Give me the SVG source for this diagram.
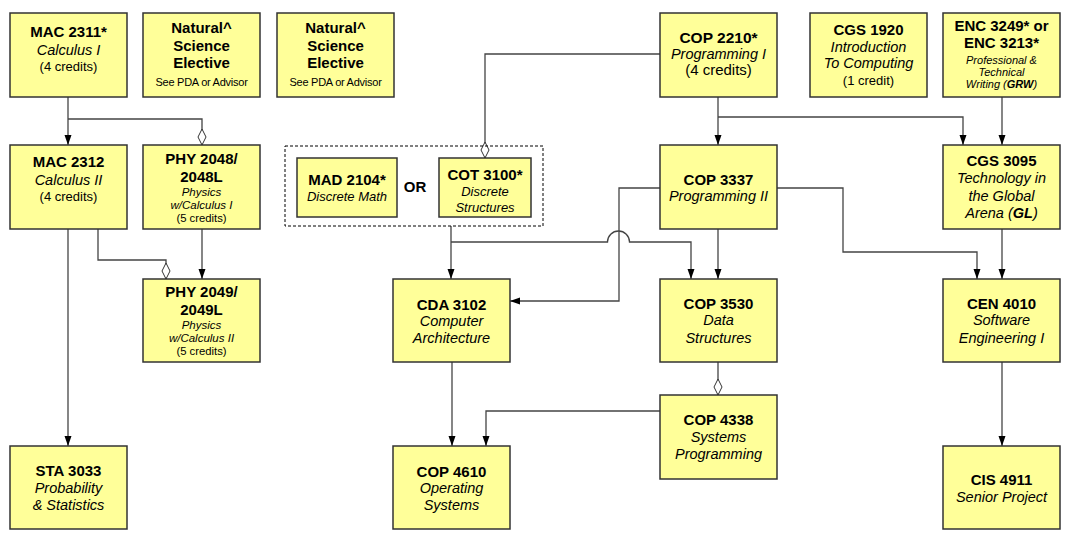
<svg xmlns="http://www.w3.org/2000/svg" width="1085" height="545" viewBox="0 0 1085 545">
<style>
.box{fill:#FFFF99;stroke:#333;stroke-width:1.5}
text{font-family:"Liberation Sans",Arial,sans-serif;fill:#000;text-anchor:middle}
.b{font-weight:bold;font-size:15px}
.i{font-style:italic;font-size:14.5px}
.c{font-size:13px}
.s{font-style:italic;font-size:11.5px}
.sc{font-size:11.3px}
.sr{font-size:11px;letter-spacing:-0.25px}
.m{font-style:italic;font-size:13px}
.ln{fill:none;stroke:#444;stroke-width:1.3}
.ar{marker-end:url(#arrow)}
.dm{marker-end:url(#diamond)}
</style>
<defs>
<marker id="arrow" markerUnits="userSpaceOnUse" markerWidth="10" markerHeight="8" refX="10" refY="4" orient="auto"><path d="M0,0.5 L10,4 L0,7.5 z" fill="#000"/></marker>
<marker id="diamond" markerUnits="userSpaceOnUse" markerWidth="18" markerHeight="10" refX="16.5" refY="5" orient="auto"><path d="M0.5,5 L8.5,1 L16.5,5 L8.5,9 z" fill="#fff" stroke="#333" stroke-width="1"/></marker>
</defs>
<rect width="1085" height="545" fill="#fff"/>
<g id="connectors">
<path class="ln ar" d="M68,97 V145"/>
<path class="ln dm" d="M68,119 H202 V145"/>
<path class="ln ar" d="M68,229 V446"/>
<path class="ln dm" d="M98,229 V260 H166 V279"/>
<path class="ln ar" d="M202,229 V279"/>
<path class="ln dm" d="M660,54 H485 V158"/>
<path class="ln ar" d="M451,226 V279"/>
<path class="ln ar" d="M451,242 H607.5 A11 11 0 0 1 629.5,242 H691 V279"/>
<path class="ln ar" d="M660,188 H619 V301 H510"/>
<path class="ln ar" d="M718,229 V279"/>
<path class="ln ar" d="M777,188 H843 V252 H977 V279"/>
<path class="ln ar" d="M718,97 V145"/>
<path class="ln ar" d="M718,117 H963 V145"/>
<path class="ln ar" d="M1002,97 V145"/>
<path class="ln ar" d="M1002,229 V279"/>
<path class="ln ar" d="M1002,362 V446"/>
<path class="ln ar" d="M452,362 V446"/>
<path class="ln dm" d="M718,362 V395"/>
<path class="ln ar" d="M660,411 H486 V446"/>
</g>
<g id="mac2311"><rect class="box" x="10" y="13" width="117" height="84"/>
<text class="b" x="68.5" y="37">MAC 2311*</text><text class="i" x="68.5" y="55">Calculus I</text><text class="c" x="68.5" y="71">(4 credits)</text></g>
<g id="nat1"><rect class="box" x="143" y="13" width="117" height="84"/>
<text class="b" x="201.5" y="33">Natural^</text><text class="b" x="201.5" y="51">Science</text><text class="b" x="201.5" y="68">Elective</text><text class="sr" x="201.5" y="86">See PDA or Advisor</text></g>
<g id="nat2"><rect class="box" x="277" y="13" width="117" height="84"/>
<text class="b" x="335.5" y="33">Natural^</text><text class="b" x="335.5" y="51">Science</text><text class="b" x="335.5" y="68">Elective</text><text class="sr" x="335.5" y="86">See PDA or Advisor</text></g>
<g id="mac2312"><rect class="box" x="10" y="145" width="117" height="84"/>
<text class="b" x="68.5" y="167">MAC 2312</text><text class="i" x="68.5" y="185">Calculus II</text><text class="c" x="68.5" y="201">(4 credits)</text></g>
<g id="phy2048"><rect class="box" x="143" y="145" width="117" height="84"/>
<text class="b" x="201.5" y="164">PHY 2048/</text><text class="b" x="201.5" y="182">2048L</text><text class="s" x="201.5" y="196">Physics</text><text class="s" x="201.5" y="209">w/Calculus I</text><text class="sc" x="201.5" y="222">(5 credits)</text></g>
<g id="phy2049"><rect class="box" x="143" y="279" width="117" height="83"/>
<text class="b" x="201.5" y="297">PHY 2049/</text><text class="b" x="201.5" y="315">2049L</text><text class="s" x="201.5" y="329">Physics</text><text class="s" x="201.5" y="342">w/Calculus II</text><text class="sc" x="201.5" y="355">(5 credits)</text></g>
<g id="sta3033"><rect class="box" x="10" y="446" width="117" height="83"/>
<text class="b" x="68.5" y="476">STA 3033</text><text class="i" x="68.5" y="493">Probability</text><text class="i" x="68.5" y="510">&amp; Statistics</text></g>
<g id="discrete-group"><rect x="285" y="146" width="258" height="80" fill="none" stroke="#000" stroke-width="1" stroke-dasharray="3,2"/>
<text class="b" x="415" y="192">OR</text></g>
<g id="mad2104"><rect class="box" x="297" y="158" width="100" height="59"/>
<text class="b" x="347" y="185">MAD 2104*</text><text class="m" x="347" y="201">Discrete Math</text></g>
<g id="cot3100"><rect class="box" x="439" y="158" width="92" height="59"/>
<text class="b" x="485" y="180">COT 3100*</text><text class="m" x="485" y="196">Discrete</text><text class="m" x="485" y="212">Structures</text></g>
<g id="cda3102"><rect class="box" x="393" y="279" width="117" height="83"/>
<text class="b" x="451.5" y="310">CDA 3102</text><text class="i" x="451.5" y="326">Computer</text><text class="i" x="451.5" y="343">Architecture</text></g>
<g id="cop4610"><rect class="box" x="393" y="446" width="117" height="83"/>
<text class="b" x="451.5" y="477">COP 4610</text><text class="i" x="451.5" y="493">Operating</text><text class="i" x="451.5" y="510">Systems</text></g>
<g id="cop2210"><rect class="box" x="660" y="13" width="117" height="84"/>
<text class="b" x="718.5" y="43" style="font-size:15.5px">COP 2210*</text><text class="i" x="718.5" y="59">Programming I</text><text x="718.5" y="75" style="font-size:15px">(4 credits)</text></g>
<g id="cgs1920"><rect class="box" x="810" y="13" width="117" height="84"/>
<text class="b" x="868.5" y="35">CGS 1920</text><text class="i" x="868.5" y="52">Introduction</text><text class="i" x="868.5" y="68">To Computing</text><text class="c" x="868.5" y="85">(1 credit)</text></g>
<g id="enc3249"><rect class="box" x="943" y="13" width="117" height="84"/>
<text class="b" x="1001.5" y="31">ENC 3249* or</text><text class="b" x="1001.5" y="48">ENC 3213*</text><text class="s" x="1001.5" y="64" style="font-size:11px">Professional &amp;</text><text class="s" x="1001.5" y="76" style="font-size:11px">Technical</text><text class="s" x="1001.5" y="88" style="font-size:11px">Writing (<tspan font-weight="bold">GRW</tspan>)</text></g>
<g id="cop3337"><rect class="box" x="660" y="145" width="117" height="84"/>
<text class="b" x="718.5" y="185">COP 3337</text><text class="i" x="718.5" y="201">Programming II</text></g>
<g id="cgs3095"><rect class="box" x="943" y="145" width="117" height="84"/>
<text class="b" x="1001.5" y="166">CGS 3095</text><text class="i" x="1001.5" y="183">Technology in</text><text class="i" x="1001.5" y="201">the Global</text><text class="i" x="1001.5" y="218">Arena (<tspan font-weight="bold">GL</tspan>)</text></g>
<g id="cop3530"><rect class="box" x="660" y="279" width="117" height="83"/>
<text class="b" x="718.5" y="309">COP 3530</text><text class="i" x="718.5" y="325">Data</text><text class="i" x="718.5" y="343">Structures</text></g>
<g id="cen4010"><rect class="box" x="943" y="279" width="117" height="83"/>
<text class="b" x="1001.5" y="309">CEN 4010</text><text class="i" x="1001.5" y="325">Software</text><text class="i" x="1001.5" y="343">Engineering I</text></g>
<g id="cop4338"><rect class="box" x="660" y="395" width="117" height="84"/>
<text class="b" x="718.5" y="425">COP 4338</text><text class="i" x="718.5" y="442">Systems</text><text class="i" x="718.5" y="459">Programming</text></g>
<g id="cis4911"><rect class="box" x="943" y="446" width="117" height="83"/>
<text class="b" x="1001.5" y="485">CIS 4911</text><text class="i" x="1001.5" y="502">Senior Project</text></g>
</svg>
